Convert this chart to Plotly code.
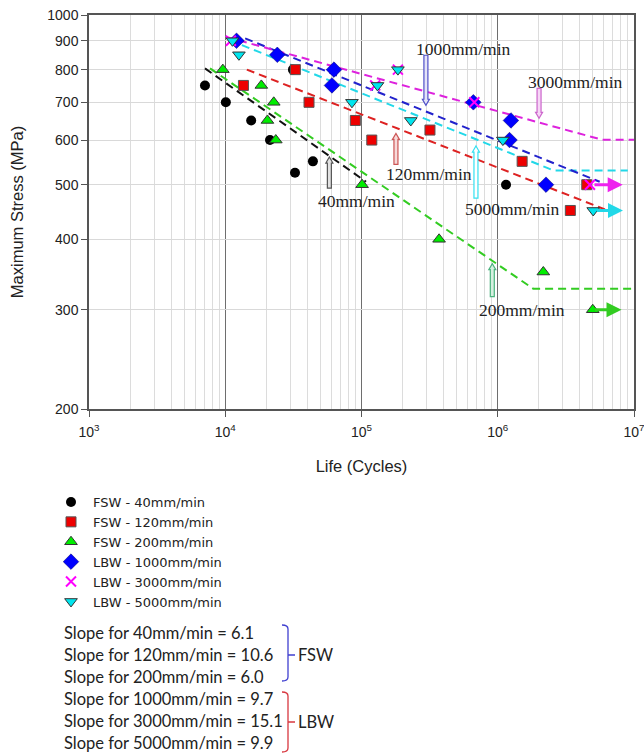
import numpy as np
import plotly.graph_objects as go

# ---------------- data ----------------
fsw40_n = [7100, 10100, 15500, 21300, 31400, 32500, 44000, 1.15e6]
fsw40_s = [750, 700, 650, 600, 800, 525, 550, 500]
fsw120_n = [13600, 32700, 41200, 90100, 119000, 318000, 1.51e6, 4.5e6, 3.41e6]
fsw120_s = [750, 800, 700, 650, 600, 625, 550, 500, 450]
fsw200_n = [9600, 18400, 22700, 20400, 23500, 101000, 371000, 2.16e6, 4.98e6]
fsw200_s = [800, 750, 700, 650, 600, 500, 400, 350, 300]
lbw1000_n = [12100, 24100, 62800, 60700, 662000, 1.25e6, 1.22e6, 2.26e6]
lbw1000_s = [900, 850, 800, 750, 700, 650, 600, 500]
lbw3000_n = [11000, 126000, 185000, 673000, 4.75e6]
lbw3000_s = [900, 750, 800, 700, 500]
lbw5000_n = [11300, 12600, 85100, 131000, 185000, 230000, 1.09e6, 5.02e6]
lbw5000_s = [900, 850, 700, 750, 800, 650, 600, 450]

# fitted S-N trend lines (dashed)
fit40_n, fit40_s = [7100, 108000], [804, 506]
fit120_n, fit120_s = [14400, 6.12e6], [800, 452]
fit200_n, fit200_s = [7730, 1.82e6, 1e7], [804, 327, 327]
fit1000_n, fit1000_s = [14000, 5.6e6], [909, 506]
fit3000_n, fit3000_s = [10200, 5.79e6, 1e7], [914, 601, 601]
fit5000_n, fit5000_s = [10800, 2.56e6, 9e6], [902, 530, 530]

# run-out arrows
runout_s = [500, 450, 300]
runout_n0 = [5.0e6, 5.2e6, 5.03e6]
runout_n1 = [8.26e6, 8.3e6, 8.1e6]

# labelled pointer arrows (head position, pixel length, label position)
label_text = ["1000mm/min", "3000mm/min", "120mm/min", "40mm/min", "5000mm/min", "200mm/min"]
head_n = [297000, 2.01e6, 179000, 58100, 692000, 912000]
head_s = [691.6, 655.5, 616.7, 559.8, 585.5, 362.2]
arrow_len = [-50, -30, 31, 31, 52, 33]
text_n = [556000, 3.69e6, 313000, 91200, 1.29e6, 1.51e6]
text_s = [869, 762, 521.6, 467, 452, 300]

x_ticks = [1e3, 1e4, 1e5, 1e6, 1e7]
x_ticklabels = ["10<sup>3</sup>", "10<sup>4</sup>", "10<sup>5</sup>", "10<sup>6</sup>", "10<sup>7</sup>"]
y_ticks = [200, 300, 400, 500, 600, 700, 800, 900, 1000]

slope_lines = ["Slope for 40mm/min = 6.1", "Slope for 120mm/min = 10.6", "Slope for 200mm/min = 6.0",
               "Slope for 1000mm/min = 9.7", "Slope for 3000mm/min = 15.1", "Slope for 5000mm/min = 9.9"]

# ---------------- figure ----------------
W, H = 644, 755
ML, MR, MT, MB = 89, 10, 15, 346
PW, PH = W - ML - MR, H - MT - MB


def px(x):
    return (x - ML) / PW


def py(y):
    return (H - MB - y) / PH


fig = go.Figure()

dash = "8px,5px"
fits = [
    (fit40_n, fit40_s, "#111111"),
    (fit200_n, fit200_s, "#33cc22"),
    (fit120_n, fit120_s, "#dd2222"),
    (fit5000_n, fit5000_s, "#22d8e8"),
    (fit1000_n, fit1000_s, "#2222cc"),
    (fit3000_n, fit3000_s, "#dd22dd"),
]
for n, s, c in fits:
    fig.add_trace(go.Scatter(x=n, y=s, mode="lines", showlegend=False, hoverinfo="skip",
                             line=dict(color=c, width=2, dash=dash)))

series = [
    ("FSW - 40mm/min", fsw40_n, fsw40_s, dict(symbol="circle", size=10, color="#000000")),
    ("FSW - 120mm/min", fsw120_n, fsw120_s, dict(symbol="square", size=10, color="#ee0000", line=dict(color="#555555", width=1))),
    ("FSW - 200mm/min", fsw200_n, fsw200_s, dict(symbol="triangle-up", size=11, color="#00ee00", line=dict(color="#333333", width=1))),
    ("LBW - 1000mm/min", lbw1000_n, lbw1000_s, dict(symbol="diamond", size=12, color="#0000ff", line=dict(color="#000066", width=0.5))),
    ("LBW - 3000mm/min", lbw3000_n, lbw3000_s, dict(symbol="x-thin", size=10, color="#ff00ff", line=dict(color="#ff00ff", width=2))),
    ("LBW - 5000mm/min", lbw5000_n, lbw5000_s, dict(symbol="triangle-down", size=11, color="#00e5ee", line=dict(color="#333333", width=1))),
]
for name, n, s, m in series:
    fig.add_trace(go.Scatter(x=n, y=s, mode="markers", name=name, marker=m))

annotations = []
shapes = []
# run-out arrows
for s, n0, n1, c in zip(runout_s, runout_n0, runout_n1, ["#ee22ee", "#22d8e8", "#33cc22"]):
    annotations.append(dict(x=np.log10(n1), y=np.log10(s), ax=np.log10(n0), ay=np.log10(s),
                            xref="x", yref="y", axref="x", ayref="y", text="", showarrow=True,
                            arrowhead=2, arrowsize=1.0, arrowwidth=3, arrowcolor=c))

# hollow pointer arrows (pixel-sized shapes anchored at the arrow head) and labels
outline = ["#5050c8", "#cc66cc", "#cc5555", "#555555", "#33e0f0", "#4cb37f"]
fill = ["#e4e4f8", "#f6d6f6", "#f7dada", "#e2e2e2", "#ffffff", "#d6f0e0"]
for t, hn, hs, L, tn, ts, oc, fc in zip(label_text, head_n, head_s, arrow_len, text_n, text_s, outline, fill):
    d = 1 if L < 0 else -1          # +1: arrow points down (tail above head)
    ln = abs(L)
    pts = [(-2, ln), (2, ln), (2, 6), (3.5, 6), (0, 0), (-3.5, 6), (-2, 6)]
    path = "M " + " L ".join(f"{x},{y * d}" for x, y in pts) + " Z"
    shapes.append(dict(type="path", path=path, xref="x", yref="y", xsizemode="pixel", ysizemode="pixel",
                       xanchor=hn, yanchor=hs, fillcolor=fc, line=dict(color=oc, width=1.2)))
    annotations.append(dict(x=np.log10(tn), y=np.log10(ts), xref="x", yref="y", text=t,
                            showarrow=False, font=dict(family="Liberation Serif", size=17.5, color="#222222")))

# slope text block
for i, t in enumerate(slope_lines):
    annotations.append(dict(x=px(62), y=py(633 + 22 * i), xref="paper", yref="paper", text=t,
                            showarrow=False, xanchor="left", yanchor="middle",
                            font=dict(family="Lato", size=16.5, color="#222222")))
annotations.append(dict(x=px(296), y=py(655), xref="paper", yref="paper", text="FSW", showarrow=False,
                        xanchor="left", yanchor="middle", font=dict(family="Lato", size=16.5, color="#222222")))
annotations.append(dict(x=px(296), y=py(722), xref="paper", yref="paper", text="LBW", showarrow=False,
                        xanchor="left", yanchor="middle", font=dict(family="Lato", size=16.5, color="#222222")))

for y0, y1, ym, c in [(625, 681, 655, "#4040d0"), (692, 752, 722, "#d83840")]:
    path = (f"M {px(282)},{py(y0)} Q {px(288)},{py(y0)} {px(288)},{py(y0 + 4)} "
            f"L {px(288)},{py(y1 - 4)} Q {px(288)},{py(y1)} {px(282)},{py(y1)} "
            f"M {px(288)},{py(ym)} L {px(295)},{py(ym)}")
    shapes.append(dict(type="path", path=path, xref="paper", yref="paper", line=dict(color=c, width=1.3)))

fig.update_layout(
    width=W, height=H,
    margin=dict(l=ML, r=MR, t=MT, b=MB, autoexpand=False),
    paper_bgcolor="white", plot_bgcolor="white",
    font=dict(family="Liberation Sans", size=14, color="#222222"),
    showlegend=True,
    legend=dict(x=px(49), y=py(487), xanchor="left", yanchor="top", bgcolor="rgba(0,0,0,0)",
                font=dict(family="DejaVu Sans", size=13, color="#222222"), tracegroupgap=0,
                itemwidth=34),
    annotations=annotations,
    shapes=shapes,
    xaxis=dict(type="log", range=[3, 7], tickvals=x_ticks, ticktext=x_ticklabels,
               showgrid=True, gridcolor="#6e6e6e", gridwidth=1.2,
               minor=dict(showgrid=True, gridcolor="#dcdcdc", gridwidth=1, dtick="D1", ticks=""),
               showline=True, linecolor="#555555", linewidth=1.5, mirror=True,
               ticks="outside", ticklen=6, tickcolor="#555555", ticklabelstandoff=3,
               ticklabeloverflow="allow",
               tickfont=dict(size=14), zeroline=False, automargin=False,
               title=dict(text="Life (Cycles)", font=dict(size=16.5), standoff=22)),
    yaxis=dict(type="log", range=[np.log10(200), 3], tickvals=y_ticks, ticktext=[str(v) for v in y_ticks],
               showgrid=True, gridcolor="#d9d9d9", gridwidth=1,
               showline=True, linecolor="#555555", linewidth=1.5, mirror=True,
               ticks="outside", ticklen=6, tickcolor="#555555",
               tickfont=dict(size=14), zeroline=False, automargin=False,
               title=dict(text="Maximum Stress (MPa)", font=dict(size=16.5), standoff=20)),
)

fig.write_html("out.html")
